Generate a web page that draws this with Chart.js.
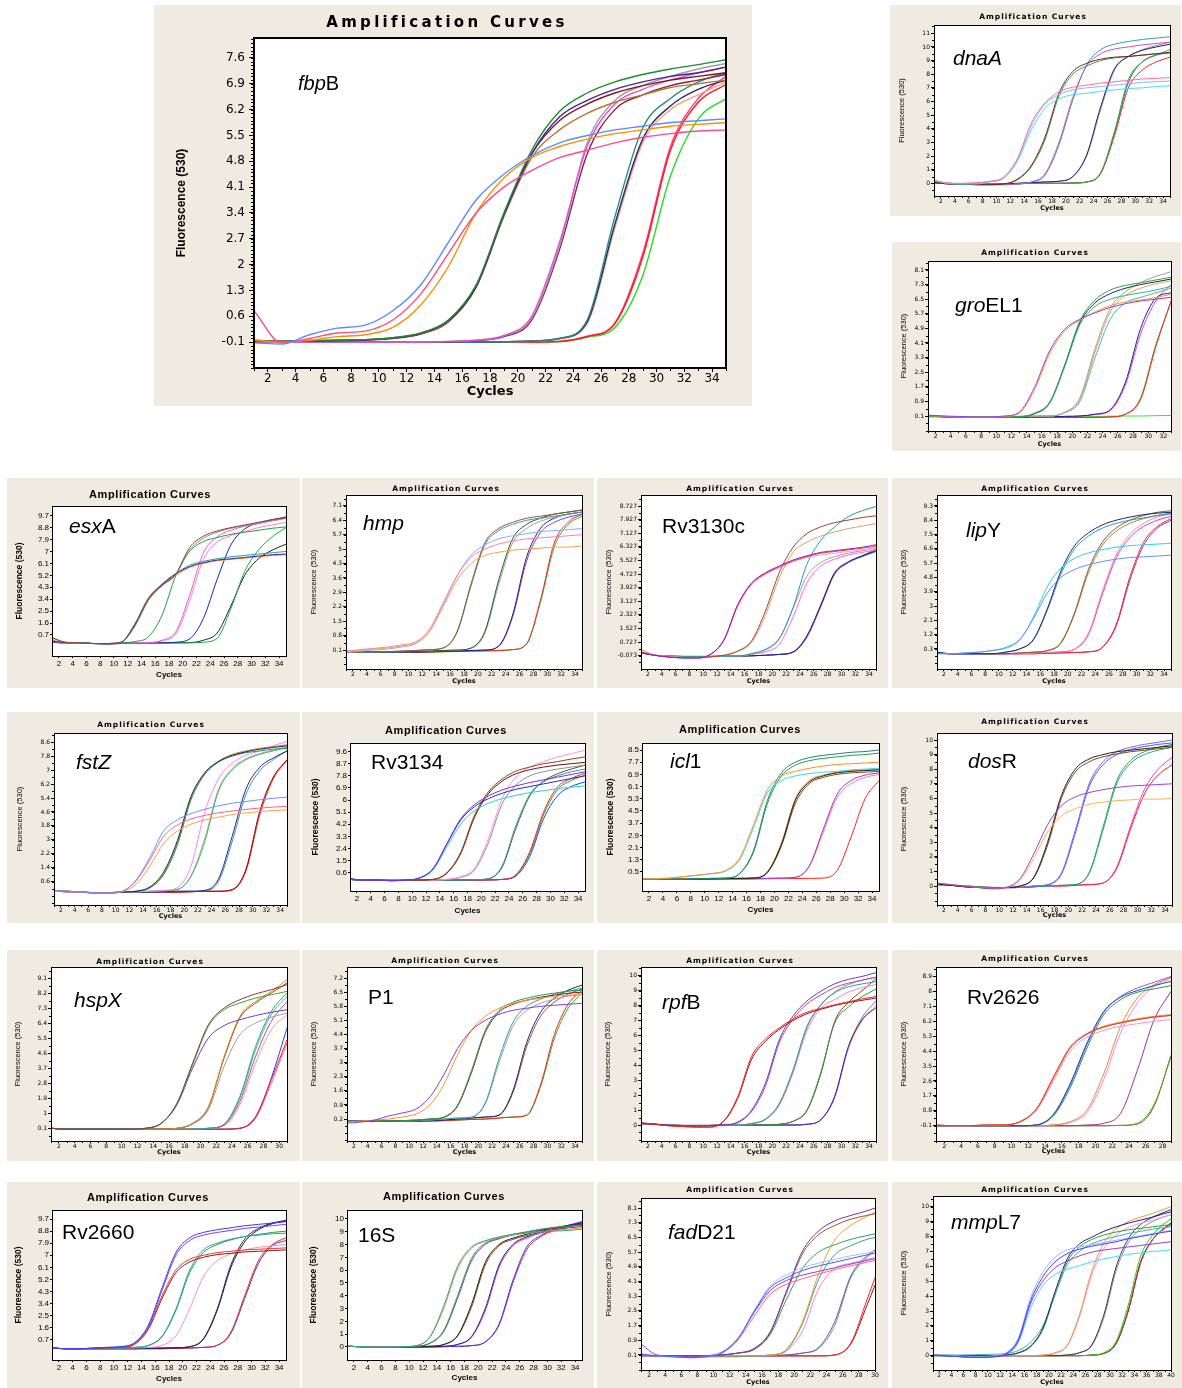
<!DOCTYPE html>
<html><head><meta charset="utf-8">
<script src="https://cdn.jsdelivr.net/npm/chart.js@4.4.1/dist/chart.umd.min.js"></script>
<style>
html,body{margin:0;padding:0;background:#fff;}
body{width:1182px;height:1388px;position:relative;overflow:hidden;}
.panel{position:absolute;background:#efebe1;}
.panel canvas{position:absolute;left:0;top:0;}
.ttl{position:absolute;white-space:nowrap;transform:translate(-50%,-50%);color:#000;}
.gene{position:absolute;white-space:nowrap;transform:translateY(-50%);font-family:'Liberation Sans',Arial,sans-serif;color:#000;}
</style></head><body>
<script>
// ---------- cycles (x positions of samples) ----------
const C35 = [1,3,5,7,9,11,13,15,17,19,21,23,25,27,29,31,33,35];
const C33 = [1,3,5,7,9,11,13,15,17,19,21,23,25,27,29,31,33];
const C31 = [1,3,5,7,9,11,13,15,17,19,21,23,25,27,29,31];
const C30 = [1,3,5,7,9,11,13,15,17,19,21,23,25,27,29,30];
const C29 = [1,3,5,7,9,11,13,15,17,19,21,23,25,27,29];
const C40 = [1,3,5,7,9,11,13,15,17,19,21,23,25,27,29,31,33,35,37,39,40];

// ---------- x tick labels ----------
const X34 = [2,4,6,8,10,12,14,16,18,20,22,24,26,28,30,32,34];
const X32 = [2,4,6,8,10,12,14,16,18,20,22,24,26,28,30,32];
const X30 = [2,4,6,8,10,12,14,16,18,20,22,24,26,28,30];
const X28 = [2,4,6,8,10,12,14,16,18,20,22,24,26,28];
const X40 = [2,4,6,8,10,12,14,16,18,20,22,24,26,28,30,32,34,36,38,40];

// ---------- y tick labels ----------
const fbpB_yTicks = [-0.1,0.6,1.3,2,2.7,3.4,4.1,4.8,5.5,6.2,6.9,7.6];
const dnaA_yTicks = [0,1,2,3,4,5,6,7,8,9,10,11];
const groEL1_yTicks = [0.1,0.9,1.7,2.5,3.3,4.1,4.9,5.7,6.5,7.3,8.1];
const esxA_yTicks = [0.7,1.6,2.5,3.4,4.3,5.2,6.1,7,7.9,8.8,9.7];
const hmp_yTicks = [0.1,0.8,1.5,2.2,2.9,3.6,4.3,5,5.7,6.4,7.1];
const Rv3130c_yTicks = [-0.073,0.727,1.527,2.327,3.127,3.927,4.727,5.527,6.327,7.127,7.927,8.727];
const lipY_yTicks = [0.3,1.2,2.1,3,3.9,4.8,5.7,6.6,7.5,8.4,9.3];
const fstZ_yTicks = [0.6,1.4,2.2,3,3.8,4.6,5.4,6.2,7,7.8,8.6];
const Rv3134_yTicks = [0.6,1.5,2.4,3.3,4.2,5.1,6,6.9,7.8,8.7,9.6];
const icl1_yTicks = [0.5,1.3,2.1,2.9,3.7,4.5,5.3,6.1,6.9,7.7,8.5];
const dosR_yTicks = [0,1,2,3,4,5,6,7,8,9,10];
const hspX_yTicks = [0.1,1,1.9,2.8,3.7,4.6,5.5,6.4,7.3,8.2,9.1];
const P1_yTicks = [0.2,0.9,1.6,2.3,3,3.7,4.4,5.1,5.8,6.5,7.2];
const rpfB_yTicks = [0,1,2,3,4,5,6,7,8,9,10];
const Rv2626_yTicks = [-0.1,0.8,1.7,2.6,3.5,4.4,5.3,6.2,7.1,8,8.9];
const Rv2660_yTicks = [0.7,1.6,2.5,3.4,4.3,5.2,6.1,7,7.9,8.8,9.7];
const r16S_yTicks = [0,1,2,3,4,5,6,7,8,9,10];
const fadD21_yTicks = [0.1,0.9,1.7,2.5,3.3,4.1,4.9,5.7,6.5,7.3,8.1];
const mmpL7_yTicks = [0,1,2,3,4,5,6,7,8,9,10];

// ---------- fluorescence values (one row per curve) ----------
const fbpB_values = [
 [-0.12,-0.15,0.1,0.28,0.36,0.75,1.45,2.6,3.75,4.45,4.95,5.3,5.5,5.65,5.75,5.85,5.9,5.95],
 [0.75,-0.12,0.0,0.15,0.2,0.5,1.2,2.3,3.4,4.1,4.55,4.9,5.1,5.3,5.45,5.55,5.62,5.65],
 [-0.05,-0.1,-0.05,0.05,0.1,0.3,0.9,1.95,3.4,4.35,4.9,5.2,5.4,5.55,5.65,5.75,5.8,5.85],
 [-0.05,-0.08,-0.06,-0.05,-0.03,0.02,0.15,0.5,1.45,3.4,5.1,6.15,6.65,6.95,7.15,7.3,7.42,7.55],
 [-0.06,-0.08,-0.07,-0.05,-0.04,0.01,0.14,0.48,1.4,3.35,5.0,6.0,6.45,6.75,6.95,7.1,7.2,7.35],
 [-0.05,-0.07,-0.06,-0.05,-0.03,0.02,0.13,0.46,1.38,3.3,4.9,5.65,6.1,6.4,6.6,6.8,6.9,7.0],
 [-0.06,-0.08,-0.07,-0.06,-0.04,0.0,0.12,0.45,1.4,3.35,5.0,5.9,6.35,6.65,6.85,7.0,7.1,7.2],
 [-0.1,-0.1,-0.1,-0.1,-0.1,-0.1,-0.09,-0.08,-0.05,0.08,0.6,2.6,5.2,6.35,6.75,7.0,7.2,7.35],
 [-0.1,-0.1,-0.1,-0.1,-0.1,-0.1,-0.09,-0.08,-0.05,0.07,0.55,2.5,5.3,6.45,6.85,7.1,7.3,7.45],
 [-0.1,-0.1,-0.1,-0.1,-0.1,-0.1,-0.1,-0.09,-0.06,0.05,0.5,2.4,5.0,6.2,6.6,6.85,7.0,7.15],
 [-0.1,-0.1,-0.1,-0.1,-0.1,-0.1,-0.1,-0.1,-0.1,-0.09,-0.07,0.0,0.5,3.3,5.7,6.5,6.95,7.2],
 [-0.1,-0.1,-0.1,-0.1,-0.1,-0.1,-0.1,-0.1,-0.1,-0.09,-0.07,0.0,0.45,3.1,5.4,6.3,6.75,7.0],
 [-0.1,-0.1,-0.1,-0.1,-0.1,-0.1,-0.1,-0.1,-0.1,-0.09,-0.08,-0.01,0.4,3.0,5.3,6.2,6.6,6.95],
 [-0.1,-0.1,-0.1,-0.1,-0.1,-0.1,-0.1,-0.1,-0.1,-0.1,-0.1,-0.08,0.05,0.4,2.2,5.1,6.4,6.88],
 [-0.1,-0.1,-0.1,-0.1,-0.1,-0.1,-0.1,-0.1,-0.1,-0.1,-0.1,-0.08,0.06,0.42,2.3,5.2,6.5,7.1],
 [-0.1,-0.1,-0.1,-0.1,-0.1,-0.1,-0.1,-0.1,-0.1,-0.1,-0.1,-0.09,0.03,0.3,1.7,4.4,5.95,6.5]
];
const fbpB_colors = ['#5a8cff','#ff4a8a','#ff8c00','#1e8c2a','#4b1fa8','#b07838','#7a1a1a','#e050e0','#a0a0a0','#8b2040','#2e8b7a','#26287a','#f4a582','#ff1a1a','#ff3c8c','#22dd22'];

const dnaA_values = [
 [0.2,0.02,0.0,0.05,0.15,0.45,1.8,4.4,5.9,6.7,7.05,7.2,7.35,7.45,7.55,7.65,7.7,7.75],
 [0.25,0.0,-0.02,0.03,0.12,0.4,1.7,4.2,5.8,6.5,6.85,7.0,7.1,7.2,7.3,7.4,7.45,7.5],
 [0.2,0.0,-0.05,-0.05,0.1,0.35,1.6,3.9,5.5,6.2,6.5,6.6,6.75,6.85,6.95,7.0,7.1,7.15],
 [0.1,-0.05,-0.05,-0.1,-0.1,-0.05,0.3,1.3,3.4,6.6,8.2,8.8,9.1,9.25,9.3,9.4,9.5,9.6],
 [0.15,-0.05,-0.08,-0.1,-0.1,-0.06,0.25,1.2,3.2,6.4,8.0,8.6,9.0,9.2,9.3,9.4,9.5,9.55],
 [0.1,0.0,-0.05,-0.1,-0.1,-0.1,-0.05,0.1,0.7,3.0,6.3,8.6,9.5,9.85,10.0,10.15,10.25,10.35],
 [0.1,0.0,-0.05,-0.1,-0.1,-0.1,-0.06,0.08,0.6,2.8,6.1,8.7,9.8,10.2,10.4,10.55,10.65,10.75],
 [0.05,0.0,-0.05,-0.08,-0.08,-0.05,0.0,0.05,0.1,0.15,0.5,2.1,5.6,8.4,9.3,9.75,10.0,10.2],
 [0.05,0.0,-0.05,-0.08,-0.08,-0.05,0.0,0.05,0.1,0.15,0.48,2.0,5.4,8.3,9.3,9.8,10.1,10.35],
 [0.0,-0.02,-0.05,-0.05,-0.05,-0.05,-0.03,0.0,0.0,0.0,0.02,0.1,0.75,3.8,7.6,8.9,9.4,9.8],
 [0.0,-0.02,-0.05,-0.05,-0.05,-0.05,-0.03,0.0,0.0,0.0,0.02,0.1,0.7,3.5,7.0,8.3,8.9,9.25],
 [0.0,-0.02,-0.05,-0.05,-0.05,-0.05,-0.03,0.0,0.0,0.0,0.02,0.1,0.75,3.7,7.4,8.9,9.4,9.6]
];
const dnaA_colors = ['#ff6fa0','#8fb4ff','#40e0f0','#7a2020','#3a9a4a','#d050c8','#3aa0a0','#20207a','#909090','#20c020','#ff2020','#2040ff'];

const groEL1_values = [
 [0.15,0.1,0.08,0.05,0.05,0.1,0.3,1.65,3.65,4.85,5.4,5.75,6.05,6.25,6.4,6.5,6.6],
 [0.12,0.08,0.06,0.04,0.04,0.08,0.25,1.5,3.5,4.75,5.35,5.8,6.15,6.35,6.45,6.6,6.75],
 [0.1,0.08,0.05,0.03,0.03,0.04,0.05,0.25,0.85,2.9,5.3,6.45,7.0,7.25,7.4,7.55,7.7],
 [0.1,0.08,0.05,0.03,0.03,0.04,0.05,0.24,0.8,2.8,5.1,6.1,6.5,6.7,6.85,7.0,7.2],
 [0.1,0.07,0.05,0.02,0.02,0.03,0.05,0.22,0.8,2.85,5.2,6.3,6.8,7.1,7.3,7.45,7.6],
 [0.1,0.08,0.05,0.05,0.05,0.06,0.08,0.1,0.1,0.3,1.1,3.8,6.0,6.9,7.4,7.75,8.0],
 [0.1,0.08,0.05,0.05,0.05,0.06,0.08,0.1,0.1,0.3,1.0,3.6,5.8,6.7,7.1,7.35,7.5],
 [0.1,0.08,0.05,0.05,0.05,0.06,0.08,0.1,0.1,0.28,0.9,3.3,5.4,6.3,6.6,6.85,7.1],
 [0.1,0.07,0.05,0.05,0.05,0.05,0.05,0.05,0.06,0.08,0.1,0.2,0.45,1.95,4.9,6.55,6.85],
 [0.1,0.07,0.05,0.05,0.05,0.05,0.05,0.05,0.06,0.08,0.1,0.18,0.4,1.8,4.6,6.4,7.3],
 [0.1,0.05,0.03,0.02,0.02,0.02,0.02,0.02,0.02,0.02,0.02,0.03,0.05,0.2,1.0,3.9,6.4],
 [0.1,0.05,0.03,0.02,0.02,0.02,0.02,0.02,0.02,0.02,0.02,0.03,0.05,0.2,1.1,4.0,6.35],
 [0.05,0.05,0.05,0.05,0.05,0.05,0.06,0.06,0.07,0.07,0.08,0.08,0.09,0.1,0.1,0.12,0.13]
];
const groEL1_colors = ['#8a3cff','#ff9a20','#30a040','#30b0a0','#203040','#a0a0a0','#f0a040','#40c0b0','#202080','#e040e0','#ff2020','#20c020','#40e040'];

const esxA_values = [
 [0.5,0.15,0.1,0.05,0.05,0.15,1.4,3.4,4.45,5.3,7.3,8.15,8.55,8.8,9.0,9.2,9.4,9.55],
 [0.45,0.14,0.1,0.05,0.05,0.14,1.3,3.3,4.4,5.25,7.1,8.0,8.45,8.75,8.95,9.15,9.35,9.5],
 [0.2,0.12,0.1,0.05,0.02,0.12,1.4,3.35,4.5,5.3,5.85,6.15,6.35,6.45,6.55,6.65,6.75,6.8],
 [0.2,0.12,0.1,0.05,0.05,0.14,1.5,3.45,4.55,5.35,5.95,6.25,6.45,6.6,6.7,6.8,6.9,7.0],
 [0.3,0.12,0.1,0.05,0.05,0.15,1.5,3.5,4.5,5.2,5.8,6.1,6.3,6.4,6.5,6.6,6.7,6.75],
 [0.3,0.1,0.1,0.05,0.05,0.1,0.2,0.55,2.2,5.2,7.0,7.75,8.05,8.3,8.45,8.6,8.75,8.85],
 [0.2,0.1,0.1,0.05,0.05,0.1,0.1,0.12,0.3,0.95,3.7,6.9,8.1,8.6,8.9,9.1,9.3,9.5],
 [0.2,0.1,0.1,0.05,0.05,0.1,0.1,0.12,0.25,0.8,3.3,6.4,7.7,8.2,8.5,8.8,9.0,9.2],
 [0.15,0.1,0.1,0.05,0.02,0.05,0.08,0.1,0.1,0.15,0.4,1.95,4.9,7.5,8.7,9.15,9.4,9.6],
 [0.15,0.1,0.1,0.05,0.05,0.05,0.08,0.1,0.1,0.1,0.1,0.15,0.45,2.7,5.5,7.1,8.1,8.8],
 [0.15,0.1,0.1,0.05,0.05,0.05,0.08,0.1,0.1,0.1,0.12,0.3,0.85,2.9,5.2,6.45,7.1,7.55]
];
const esxA_colors = ['#8b4a2a','#909090','#4020a0','#20a0a0','#ff8c20','#20a040','#e060e0','#ff80c0','#2020a0','#10b040','#202020'];

const hmp_values = [
 [0.0,0.1,0.15,0.2,0.3,0.45,1.0,2.2,3.5,4.3,4.7,4.85,4.95,5.0,5.05,5.1,5.1,5.15],
 [0.05,0.12,0.18,0.25,0.35,0.5,1.1,2.4,3.7,4.6,5.0,5.25,5.4,5.5,5.55,5.6,5.65,5.7],
 [-0.05,0.05,0.1,0.15,0.25,0.4,1.0,2.3,3.7,4.7,5.2,5.5,5.65,5.75,5.85,5.9,5.95,6.0],
 [0.0,0.0,0.0,0.02,0.05,0.08,0.12,0.2,1.0,3.3,5.3,6.0,6.3,6.5,6.6,6.7,6.8,6.9],
 [0.0,0.0,0.0,0.02,0.05,0.08,0.12,0.2,0.95,3.2,5.2,5.9,6.2,6.4,6.5,6.6,6.7,6.8],
 [0.0,0.0,0.0,0.0,0.02,0.03,0.05,0.08,0.1,0.2,1.0,3.5,5.5,6.2,6.5,6.7,6.8,6.9],
 [0.0,0.0,0.0,0.0,0.02,0.03,0.05,0.08,0.1,0.18,0.9,3.3,5.3,6.0,6.35,6.55,6.7,6.8],
 [0.0,0.0,0.0,0.0,0.0,0.0,0.02,0.05,0.05,0.08,0.1,0.3,1.8,4.6,6.0,6.5,6.7,6.8],
 [0.0,0.0,0.0,0.0,0.0,0.0,0.02,0.05,0.05,0.08,0.1,0.28,1.7,4.4,5.8,6.3,6.55,6.7],
 [0.0,0.0,0.0,0.0,0.0,0.0,0.0,0.02,0.03,0.05,0.06,0.08,0.12,0.4,2.5,5.3,6.3,6.7],
 [0.0,0.0,0.0,0.0,0.0,0.0,0.0,0.02,0.03,0.05,0.06,0.08,0.12,0.38,2.4,5.1,6.2,6.6]
];
const hmp_colors = ['#ffa040','#ff80b0','#80b0ff','#a0522d','#30a0a0','#206020','#a0a0a0','#202080','#8040c0','#ff2020','#20c020'];

const Rv3130c_values = [
 [0.1,-0.05,-0.15,-0.2,-0.2,0.0,0.87,2.93,4.2,4.8,5.2,5.55,5.8,6.0,6.1,6.2,6.3,6.45],
 [0.15,-0.05,-0.15,-0.2,-0.22,-0.02,0.85,2.9,4.15,4.75,5.15,5.5,5.75,5.95,6.05,6.15,6.25,6.35],
 [0.2,-0.03,-0.12,-0.18,-0.2,-0.02,0.8,2.8,4.1,4.7,5.1,5.45,5.7,5.85,5.95,6.05,6.15,6.25],
 [0.1,-0.05,-0.15,-0.2,-0.2,-0.15,-0.05,0.2,0.8,2.55,4.8,6.3,7.1,7.5,7.75,7.9,8.05,8.15],
 [0.3,-0.05,-0.15,-0.2,-0.2,-0.15,-0.06,0.18,0.7,2.3,4.5,6.0,6.6,6.95,7.2,7.4,7.55,7.7],
 [0.1,-0.05,-0.1,-0.12,-0.12,-0.12,-0.1,-0.1,0.05,0.3,0.95,2.75,5.3,6.7,7.5,8.1,8.45,8.7],
 [0.1,-0.05,-0.1,-0.12,-0.12,-0.12,-0.1,-0.1,0.03,0.25,0.9,2.7,4.6,5.4,5.75,5.95,6.1,6.25],
 [0.1,-0.05,-0.1,-0.12,-0.12,-0.12,-0.1,-0.1,0.0,0.15,0.6,2.2,4.2,5.2,5.6,5.85,6.0,6.15],
 [0.1,-0.05,-0.1,-0.12,-0.12,-0.12,-0.1,-0.1,-0.08,-0.05,0.0,0.15,1.1,2.9,4.8,5.45,5.8,6.1],
 [0.1,-0.05,-0.1,-0.12,-0.12,-0.12,-0.1,-0.1,-0.08,-0.05,0.0,0.12,1.0,2.8,4.7,5.4,5.8,6.2],
 [0.1,-0.05,-0.1,-0.12,-0.12,-0.12,-0.1,-0.1,-0.08,-0.05,0.0,0.13,1.05,2.85,4.75,5.4,5.75,6.05]
];
const Rv3130c_colors = ['#8020e0','#ff4020','#ffa0c0','#a04030','#e0a060','#20a0a0','#a0a0a0','#ff60ff','#202080','#a040c0','#208040'];

const lipY_values = [
 [0.0,0.0,0.05,0.1,0.2,0.4,0.9,2.2,3.8,4.8,5.3,5.6,5.8,5.95,6.05,6.1,6.15,6.2],
 [0.0,0.0,0.05,0.1,0.2,0.35,0.85,2.3,4.2,5.4,6.0,6.35,6.55,6.7,6.8,6.85,6.9,6.95],
 [0.1,0.0,0.0,0.0,0.0,0.1,0.3,0.9,2.8,5.2,6.8,7.6,8.1,8.4,8.6,8.75,8.85,8.9],
 [0.1,0.0,0.0,0.0,0.0,0.1,0.3,0.85,2.7,5.0,6.6,7.4,7.9,8.2,8.4,8.55,8.7,8.8],
 [0.05,0.0,0.0,0.0,0.0,0.0,0.05,0.1,0.2,0.7,2.6,5.3,7.0,7.9,8.4,8.7,8.9,9.0],
 [0.05,0.0,0.0,0.0,0.0,0.0,0.05,0.1,0.18,0.65,2.5,5.1,6.8,7.7,8.2,8.5,8.7,8.85],
 [0.05,0.0,0.0,0.0,0.0,0.0,0.0,0.05,0.08,0.12,0.3,1.3,3.9,6.2,7.5,8.2,8.6,8.8],
 [0.05,0.0,0.0,0.0,0.0,0.0,0.0,0.05,0.08,0.12,0.28,1.2,3.7,6.0,7.3,8.0,8.4,8.65],
 [0.05,0.0,0.0,0.0,0.0,0.0,0.0,0.0,0.03,0.05,0.08,0.12,0.4,1.8,4.8,7.0,8.0,8.5],
 [0.05,0.0,0.0,0.0,0.0,0.0,0.0,0.0,0.03,0.05,0.08,0.12,0.38,1.7,4.6,6.8,7.9,8.4]
];
const lipY_colors = ['#6090ff','#30d0e0','#202080','#30a0a0','#a0522d','#909040','#ff80b0','#d040d0','#ff2020','#8040c0'];

const fstZ_values = [
 [0.1,0.05,0.0,-0.05,-0.05,0.05,0.7,2.0,3.5,4.15,4.5,4.75,4.95,5.1,5.2,5.3,5.38,5.45],
 [0.1,0.05,0.0,-0.05,-0.05,0.05,0.65,1.85,3.2,3.85,4.2,4.4,4.55,4.65,4.75,4.82,4.88,4.92],
 [0.1,0.05,0.0,-0.05,-0.05,0.03,0.45,1.5,2.8,3.5,3.9,4.15,4.3,4.45,4.55,4.62,4.68,4.72],
 [0.1,0.05,0.0,-0.05,-0.05,0.0,0.05,0.3,1.15,2.95,5.5,6.85,7.5,7.85,8.05,8.2,8.3,8.4],
 [0.1,0.05,0.0,-0.05,-0.05,0.0,0.05,0.25,1.0,2.7,5.3,6.75,7.45,7.8,8.0,8.1,8.2,8.25],
 [0.1,0.05,0.0,-0.05,-0.05,0.0,0.05,0.25,1.05,2.8,5.4,6.8,7.5,7.9,8.1,8.25,8.35,8.45],
 [0.05,0.02,0.0,-0.03,-0.03,0.0,0.02,0.05,0.1,0.25,1.5,4.6,6.5,7.4,7.85,8.1,8.4,8.65],
 [0.05,0.02,0.0,-0.03,-0.03,0.0,0.02,0.05,0.08,0.15,0.9,2.9,5.8,7.0,7.6,7.9,8.1,8.3],
 [0.05,0.02,0.0,-0.03,-0.03,0.0,0.02,0.05,0.08,0.15,0.95,3.1,5.9,7.1,7.65,7.95,8.15,8.35],
 [0.05,0.02,0.0,-0.03,-0.03,0.0,0.0,0.0,0.02,0.05,0.05,0.1,0.75,3.2,5.9,7.15,7.7,8.1],
 [0.05,0.02,0.0,-0.03,-0.03,0.0,0.0,0.0,0.02,0.05,0.05,0.08,0.6,2.9,5.6,6.95,7.6,8.1],
 [0.05,0.02,0.0,-0.03,-0.03,0.0,0.0,0.0,0.0,0.0,0.02,0.05,0.05,0.15,1.3,4.6,6.6,7.6],
 [0.05,0.02,0.0,-0.03,-0.03,0.0,0.0,0.0,0.0,0.0,0.02,0.05,0.05,0.12,1.2,4.4,6.5,7.55]
];
const fstZ_colors = ['#7090ff','#ff6090','#ffa040','#202080','#20a040','#d08020','#ff80ff','#40b060','#b0b0b0','#302090','#30a0a0','#8b0000','#ff2020'];

const Rv3134_values = [
 [0.15,0.05,0.05,0.0,0.05,0.2,0.9,2.75,4.6,5.65,6.3,6.75,7.05,7.3,7.5,7.7,7.9,8.1],
 [0.15,0.05,0.05,0.0,0.05,0.2,0.88,2.7,4.5,5.5,6.1,6.5,6.8,7.0,7.2,7.4,7.6,7.8],
 [0.15,0.05,0.05,0.0,0.05,0.18,0.8,2.5,4.2,5.2,5.75,6.1,6.35,6.55,6.7,6.85,6.95,7.05],
 [0.1,0.05,0.05,0.02,0.03,0.05,0.1,0.6,2.1,4.85,6.6,7.55,8.15,8.45,8.7,8.85,9.05,9.2],
 [0.1,0.05,0.05,0.02,0.03,0.05,0.1,0.55,2.0,4.7,6.45,7.4,7.95,8.25,8.45,8.6,8.7,8.8],
 [0.1,0.05,0.05,0.05,0.05,0.05,0.05,0.1,0.3,0.9,3.1,6.1,7.7,8.45,8.85,9.2,9.45,9.7],
 [0.1,0.05,0.05,0.05,0.05,0.05,0.05,0.1,0.25,0.8,2.8,5.7,7.1,7.8,8.1,8.3,8.45,8.6],
 [0.1,0.05,0.05,0.05,0.05,0.05,0.05,0.05,0.05,0.08,0.15,1.1,4.1,6.4,7.35,7.8,8.1,8.3],
 [0.1,0.05,0.05,0.05,0.05,0.05,0.05,0.05,0.05,0.08,0.15,1.0,3.9,6.3,7.4,7.95,8.3,8.6],
 [0.1,0.05,0.05,0.05,0.05,0.05,0.05,0.05,0.05,0.05,0.06,0.1,0.45,2.15,5.1,6.95,7.6,8.0],
 [0.1,0.05,0.05,0.05,0.05,0.05,0.05,0.05,0.05,0.05,0.06,0.1,0.35,1.8,4.6,6.3,7.0,7.35],
 [0.1,0.05,0.05,0.05,0.05,0.05,0.05,0.05,0.05,0.05,0.06,0.1,0.4,2.0,4.9,6.75,7.45,7.85]
];
const Rv3134_colors = ['#8030e0','#2030c0','#30c8e8','#8b4513','#6a1010','#ff90e0','#909090','#30a0a0','#505050','#ff2020','#2040ff','#20b020'];

const icl1_values = [
 [0.05,0.05,0.1,0.2,0.3,0.4,0.6,1.4,3.6,5.9,6.8,7.1,7.3,7.45,7.55,7.6,7.65,7.7],
 [0.05,0.05,0.1,0.18,0.28,0.38,0.55,1.3,3.4,5.7,6.5,6.8,6.95,7.05,7.1,7.2,7.25,7.3],
 [0.05,0.02,0.02,0.02,0.05,0.08,0.1,0.4,1.9,5.2,7.0,7.7,8.0,8.15,8.25,8.35,8.4,8.5],
 [0.05,0.02,0.02,0.02,0.05,0.08,0.1,0.38,1.8,5.0,6.8,7.5,7.8,7.95,8.05,8.15,8.2,8.3],
 [0.05,0.02,0.02,0.02,0.03,0.05,0.06,0.08,0.1,0.5,2.3,5.2,6.4,6.8,7.0,7.1,7.15,7.2],
 [0.05,0.02,0.02,0.02,0.03,0.05,0.06,0.08,0.1,0.45,2.2,5.0,6.3,6.7,6.9,7.0,7.05,7.1],
 [0.05,0.02,0.02,0.02,0.03,0.05,0.06,0.08,0.1,0.5,2.4,5.3,6.5,6.85,7.05,7.15,7.2,7.25],
 [0.05,0.02,0.02,0.02,0.03,0.03,0.05,0.05,0.06,0.08,0.1,0.15,0.9,3.3,5.6,6.5,6.85,7.0],
 [0.05,0.02,0.02,0.02,0.03,0.03,0.05,0.05,0.06,0.08,0.1,0.14,0.85,3.1,5.4,6.3,6.7,6.9],
 [0.05,0.02,0.02,0.02,0.03,0.03,0.03,0.03,0.04,0.05,0.06,0.07,0.08,0.1,0.6,2.8,5.3,6.5]
];
const icl1_colors = ['#ff9020','#30e0f0','#208080','#20a040','#202020','#8b4513','#e09030','#9040c0','#ff70c0','#ff2020'];

const dosR_values = [
 [0.2,0.1,0.0,-0.1,-0.2,-0.1,0.5,2.2,4.2,5.5,6.1,6.4,6.6,6.75,6.85,6.9,6.95,7.0],
 [0.2,0.1,0.0,-0.1,-0.15,-0.1,0.4,1.9,3.7,4.8,5.3,5.6,5.75,5.85,5.9,5.95,5.95,6.0],
 [0.15,0.05,-0.05,-0.1,-0.15,-0.1,0.0,0.6,3.0,6.2,8.0,8.7,9.0,9.2,9.3,9.4,9.5,9.6],
 [0.15,0.05,-0.05,-0.1,-0.15,-0.1,0.0,0.55,2.8,6.0,7.8,8.5,8.85,9.05,9.2,9.3,9.4,9.5],
 [0.1,0.05,-0.05,-0.1,-0.12,-0.12,-0.1,0.0,0.1,0.9,3.8,7.0,8.5,9.2,9.5,9.7,9.85,10.0],
 [0.1,0.05,-0.05,-0.1,-0.12,-0.12,-0.1,0.0,0.08,0.8,3.6,6.8,8.3,9.0,9.35,9.55,9.7,9.8],
 [0.1,0.05,0.0,-0.05,-0.1,-0.1,-0.1,-0.05,0.0,0.05,0.1,0.9,4.0,7.2,8.6,9.2,9.5,9.7],
 [0.1,0.05,0.0,-0.05,-0.1,-0.1,-0.1,-0.05,0.0,0.05,0.1,0.85,3.8,7.0,8.4,9.0,9.3,9.5],
 [0.1,0.05,0.0,-0.05,-0.1,-0.1,-0.1,-0.05,0.0,0.0,0.05,0.1,0.2,1.2,3.9,6.3,7.6,8.3],
 [0.1,0.05,0.0,-0.05,-0.1,-0.1,-0.1,-0.05,0.0,0.0,0.05,0.1,0.2,1.3,4.1,6.6,8.0,8.8]
];
const dosR_colors = ['#a040e0','#ffb050','#202020','#8b4513','#8060ff','#4060ff','#20b040','#30a0a0','#ff2020','#e040e0'];

const hspX_values = [
 [0.1,0.05,0.05,0.05,0.05,0.05,0.1,0.4,1.6,4.0,6.3,7.3,7.8,8.15,8.4,8.7],
 [0.1,0.05,0.05,0.05,0.05,0.05,0.1,0.38,1.55,3.9,6.2,7.2,7.6,7.9,8.1,8.3],
 [0.1,0.05,0.05,0.05,0.05,0.05,0.1,0.4,1.5,3.7,5.5,6.25,6.6,6.85,7.05,7.2],
 [0.1,0.05,0.05,0.05,0.05,0.05,0.05,0.05,0.1,0.4,1.4,4.4,6.8,7.7,8.3,9.0],
 [0.1,0.05,0.05,0.05,0.05,0.05,0.05,0.05,0.1,0.38,1.35,4.3,6.7,7.6,8.2,8.8],
 [0.1,0.05,0.05,0.05,0.05,0.05,0.05,0.05,0.1,0.35,1.2,3.8,5.7,6.4,6.75,7.0],
 [0.1,0.05,0.05,0.05,0.05,0.05,0.05,0.05,0.05,0.05,0.1,0.35,2.0,5.0,7.1,8.2],
 [0.1,0.05,0.05,0.05,0.05,0.05,0.05,0.05,0.05,0.05,0.1,0.33,1.9,4.8,6.9,8.0],
 [0.1,0.05,0.05,0.05,0.05,0.05,0.05,0.05,0.05,0.05,0.1,0.3,1.7,4.4,6.5,7.7],
 [0.1,0.05,0.05,0.05,0.05,0.05,0.05,0.05,0.05,0.05,0.1,0.25,1.5,4.0,6.0,6.9],
 [0.1,0.05,0.05,0.05,0.05,0.05,0.05,0.05,0.05,0.05,0.05,0.05,0.1,0.8,3.0,5.4],
 [0.1,0.05,0.05,0.05,0.05,0.05,0.05,0.05,0.05,0.05,0.05,0.05,0.1,0.75,3.1,6.1],
 [0.1,0.05,0.05,0.05,0.05,0.05,0.05,0.05,0.05,0.05,0.05,0.05,0.1,0.7,2.8,5.2]
];
const hspX_colors = ['#8b3a3a','#40a040','#6040d0','#e09020','#8b4513','#a0a0a0','#30a090','#40c060','#c040c0','#f0a090','#ff2020','#2040ff','#ff60a0'];

const P1_values = [
 [0.0,0.05,0.15,0.35,0.5,0.7,1.3,2.4,3.7,4.6,5.1,5.4,5.6,5.7,5.8,5.85,5.9,5.95],
 [0.05,0.1,0.15,0.2,0.3,0.45,0.9,1.9,3.4,4.6,5.3,5.7,5.95,6.1,6.2,6.3,6.35,6.4],
 [0.1,0.1,0.1,0.1,0.12,0.15,0.2,0.3,0.9,2.6,4.6,5.6,6.0,6.2,6.35,6.45,6.55,6.6],
 [0.1,0.1,0.1,0.1,0.12,0.15,0.2,0.28,0.85,2.5,4.5,5.5,5.9,6.1,6.25,6.35,6.45,6.5],
 [0.1,0.1,0.1,0.1,0.1,0.12,0.15,0.2,0.25,0.3,1.0,3.2,5.0,5.8,6.15,6.4,6.55,6.7],
 [0.1,0.1,0.1,0.1,0.1,0.12,0.15,0.2,0.25,0.28,0.95,3.0,4.8,5.6,5.95,6.15,6.3,6.4],
 [0.1,0.1,0.1,0.1,0.1,0.1,0.12,0.15,0.2,0.25,0.3,0.4,1.6,4.0,5.5,6.2,6.6,6.85],
 [0.1,0.1,0.1,0.1,0.1,0.1,0.12,0.15,0.2,0.25,0.3,0.38,1.5,3.8,5.3,6.0,6.4,6.65],
 [0.1,0.1,0.1,0.1,0.1,0.1,0.1,0.12,0.15,0.18,0.2,0.25,0.3,0.4,1.9,4.4,5.9,6.6],
 [0.1,0.1,0.1,0.1,0.1,0.1,0.1,0.12,0.15,0.18,0.2,0.25,0.3,0.38,1.8,4.2,5.7,6.45]
];
const P1_colors = ['#8040e0','#ff9030','#20a040','#8b1a1a','#30a0a0','#a0a0a0','#202080','#a0522d','#ff2020','#20c020'];

const rpfB_values = [
 [0.15,0.05,-0.05,-0.1,-0.15,-0.15,0.3,1.9,4.6,5.75,6.5,7.1,7.55,7.8,8.05,8.25,8.45,8.6],
 [0.15,0.05,-0.05,-0.1,-0.12,-0.12,0.25,1.8,4.4,5.6,6.4,7.0,7.45,7.75,8.0,8.2,8.35,8.5],
 [0.1,0.05,0.0,-0.05,-0.05,-0.03,0.0,0.2,1.0,2.8,5.7,7.3,8.3,8.95,9.45,9.75,9.95,10.2],
 [0.1,0.05,0.0,-0.05,-0.05,-0.03,0.0,0.15,0.9,2.6,5.5,7.1,8.1,8.7,9.2,9.5,9.7,9.9],
 [0.1,0.05,0.0,-0.03,-0.03,-0.03,0.0,0.0,0.1,0.4,1.45,3.7,6.6,8.05,8.85,9.25,9.45,9.6],
 [0.1,0.05,0.0,-0.03,-0.03,-0.03,0.0,0.0,0.1,0.38,1.4,3.6,6.5,8.0,8.9,9.4,9.7,9.9],
 [0.1,0.05,0.0,-0.03,-0.03,-0.03,0.0,0.0,0.08,0.35,1.3,3.5,6.3,7.8,8.4,8.9,9.2,9.4],
 [0.1,0.05,0.0,-0.03,-0.03,-0.03,0.0,0.0,0.0,0.0,0.05,0.25,1.0,3.5,6.8,7.9,8.6,9.1],
 [0.1,0.05,0.0,-0.03,-0.03,-0.03,0.0,0.0,0.0,0.0,0.05,0.25,0.95,3.4,6.9,8.2,9.0,9.8],
 [0.1,0.05,0.0,-0.03,-0.03,-0.03,0.0,0.0,0.0,0.0,0.0,0.0,0.05,0.35,1.9,5.25,7.05,7.85],
 [0.1,0.05,0.0,-0.03,-0.03,-0.03,0.0,0.0,0.0,0.0,0.0,0.0,0.05,0.35,1.85,5.2,7.2,8.3],
 [0.1,0.05,0.0,-0.03,-0.03,-0.03,0.0,0.0,0.0,0.0,0.0,0.0,0.05,0.33,1.8,5.1,7.0,8.0]
];
const rpfB_colors = ['#ff2020','#8b1a1a','#6040c0','#c040a0','#30a0a0','#909090','#ff80e0','#20a040','#8b4513','#5020a0','#4080ff','#ff9030'];

const Rv2626_values = [
 [-0.05,-0.1,-0.1,-0.05,-0.05,0.15,0.95,2.85,4.65,5.45,5.85,6.1,6.3,6.45,6.55],
 [-0.05,-0.1,-0.1,-0.05,-0.05,0.14,0.93,2.8,4.6,5.45,5.9,6.15,6.35,6.5,6.6],
 [-0.05,-0.1,-0.1,-0.05,-0.05,0.13,0.9,2.75,4.55,5.4,5.85,6.1,6.3,6.45,6.55],
 [-0.05,-0.1,-0.1,-0.05,-0.05,0.12,0.85,2.6,4.4,5.25,5.65,5.9,6.05,6.2,6.3],
 [-0.1,-0.1,-0.1,-0.1,-0.1,-0.1,-0.05,0.6,2.45,4.9,6.8,7.65,8.05,8.35,8.6],
 [-0.1,-0.1,-0.1,-0.1,-0.1,-0.1,-0.05,0.5,2.2,4.6,6.6,7.5,7.95,8.15,8.35],
 [-0.1,-0.1,-0.1,-0.1,-0.1,-0.1,-0.05,0.55,2.35,4.8,6.75,7.7,8.2,8.55,8.9],
 [-0.1,-0.1,-0.1,-0.1,-0.1,-0.1,-0.1,-0.05,0.15,0.85,3.05,5.9,7.6,8.4,8.85],
 [-0.1,-0.1,-0.1,-0.1,-0.1,-0.1,-0.1,-0.05,0.1,0.7,2.7,5.5,7.3,8.3,8.8],
 [-0.1,-0.1,-0.1,-0.1,-0.1,-0.1,-0.1,-0.1,-0.1,-0.05,0.05,0.65,3.25,6.3,8.0],
 [-0.1,-0.1,-0.1,-0.1,-0.1,-0.1,-0.1,-0.1,-0.1,-0.1,-0.1,-0.08,0.05,1.2,4.05],
 [-0.1,-0.1,-0.1,-0.1,-0.1,-0.1,-0.1,-0.1,-0.1,-0.1,-0.1,-0.08,0.0,1.1,4.15]
];
const Rv2626_colors = ['#ff3020','#ff9020','#30c0f0','#ff90c0','#2040c0','#20a040','#8060e0','#e09030','#ff80e0','#a030a0','#20c020','#ff2020'];

const Rv2660_values = [
 [0.1,0.05,0.05,0.1,0.15,0.2,0.5,1.8,4.6,7.2,8.3,8.7,8.9,9.05,9.2,9.3,9.4,9.5],
 [0.1,0.05,0.05,0.1,0.15,0.2,0.48,1.7,4.4,7.0,8.1,8.5,8.7,8.85,9.0,9.1,9.2,9.3],
 [0.1,0.05,0.05,0.08,0.12,0.15,0.4,1.6,4.0,5.9,6.7,7.0,7.2,7.3,7.4,7.45,7.5,7.55],
 [0.1,0.05,0.05,0.08,0.12,0.15,0.38,1.5,3.8,5.7,6.5,6.85,7.05,7.15,7.25,7.3,7.35,7.4],
 [0.1,0.05,0.05,0.05,0.05,0.1,0.15,0.3,1.0,3.0,5.9,7.4,7.9,8.2,8.4,8.5,8.6,8.65],
 [0.1,0.05,0.05,0.05,0.05,0.1,0.15,0.28,0.95,2.9,5.7,7.2,7.8,8.15,8.4,8.55,8.7,8.8],
 [0.1,0.05,0.05,0.05,0.05,0.08,0.1,0.15,0.3,1.0,3.0,5.4,6.6,7.1,7.4,7.6,7.7,7.8],
 [0.1,0.05,0.05,0.05,0.05,0.05,0.05,0.08,0.1,0.12,0.2,0.8,3.0,6.3,8.2,9.0,9.4,9.6],
 [0.1,0.05,0.05,0.05,0.05,0.05,0.05,0.08,0.1,0.12,0.2,0.75,2.9,6.1,8.0,8.9,9.35,9.55],
 [0.1,0.05,0.05,0.05,0.05,0.05,0.05,0.05,0.05,0.08,0.1,0.15,0.3,1.3,4.0,6.6,7.8,8.3],
 [0.1,0.05,0.05,0.05,0.05,0.05,0.05,0.05,0.05,0.08,0.1,0.15,0.3,1.2,3.8,6.4,7.7,8.1]
];
const Rv2660_colors = ['#3040ff','#8040e0','#ff3030','#8b1a1a','#30a0a0','#20a040','#ff90a0','#202080','#202020','#ff2020','#2040ff'];

const r16S_values = [
 [0.05,0.02,0.0,0.0,0.02,0.1,0.8,3.2,6.3,7.8,8.3,8.6,8.8,8.9,9.0,9.05,9.1,9.2],
 [0.05,0.02,0.0,0.0,0.02,0.1,0.75,3.0,6.1,7.7,8.25,8.55,8.75,8.9,9.0,9.1,9.2,9.3],
 [0.05,0.02,0.0,0.0,0.02,0.05,0.3,1.3,4.0,6.9,8.1,8.5,8.8,9.0,9.2,9.35,9.45,9.55],
 [0.05,0.02,0.0,0.0,0.02,0.05,0.28,1.2,3.8,6.7,8.0,8.45,8.75,8.95,9.15,9.3,9.4,9.5],
 [0.05,0.02,0.0,0.0,0.0,0.02,0.05,0.2,0.9,3.3,6.6,8.0,8.5,8.8,9.1,9.3,9.45,9.6],
 [0.05,0.02,0.0,0.0,0.0,0.02,0.05,0.18,0.85,3.1,6.4,7.9,8.4,8.7,8.95,9.15,9.3,9.4],
 [0.05,0.02,0.0,0.0,0.0,0.0,0.02,0.05,0.2,0.8,3.0,6.4,8.0,8.6,9.0,9.3,9.5,9.7],
 [0.05,0.02,0.0,0.0,0.0,0.0,0.02,0.05,0.18,0.75,2.8,6.2,7.9,8.5,8.9,9.2,9.4,9.6],
 [0.05,0.02,0.0,0.0,0.0,0.0,0.0,0.02,0.05,0.1,0.4,1.8,5.2,7.8,8.7,9.2,9.5,9.8],
 [0.05,0.02,0.0,0.0,0.0,0.0,0.0,0.02,0.05,0.1,0.38,1.7,5.0,7.6,8.6,9.1,9.4,9.7]
];
const r16S_colors = ['#30a0a0','#ff9030','#20a040','#8040c0','#202020','#8b4513','#202080','#d040d0','#2040ff','#ff2020'];

const fadD21_values = [
 [0.15,0.05,0.0,-0.05,0.0,0.2,0.97,2.45,3.75,4.3,4.7,4.95,5.15,5.35,5.55,5.65],
 [0.15,0.05,0.0,-0.05,0.0,0.22,1.0,2.5,3.85,4.45,4.85,5.1,5.3,5.5,5.65,5.75],
 [0.7,0.1,0.05,0.0,0.05,0.25,1.0,2.4,3.6,4.15,4.45,4.65,4.85,5.05,5.25,5.35],
 [0.1,0.05,0.0,-0.05,0.0,0.2,0.9,2.2,3.4,3.95,4.25,4.5,4.75,4.95,5.15,5.25],
 [0.1,0.05,0.05,0.05,0.05,0.1,0.2,0.45,1.35,3.55,5.75,6.85,7.4,7.7,7.95,8.1],
 [0.1,0.05,0.05,0.05,0.05,0.1,0.2,0.4,1.3,3.45,5.6,6.65,7.15,7.5,7.7,7.8],
 [0.1,0.05,0.05,0.05,0.05,0.1,0.2,0.4,1.2,3.1,4.8,5.7,6.1,6.4,6.6,6.7],
 [0.05,0.05,0.05,0.05,0.05,0.05,0.05,0.05,0.1,0.4,1.9,4.5,6.35,7.15,7.65,7.85],
 [0.05,0.05,0.05,0.0,0.0,0.0,0.0,0.05,0.1,0.35,1.8,4.2,5.55,6.05,6.4,6.5],
 [0.05,0.05,0.05,0.05,0.05,0.05,0.05,0.05,0.08,0.3,1.4,3.7,4.8,5.1,5.3,5.4],
 [0.05,0.05,0.05,0.05,0.05,0.05,0.05,0.05,0.05,0.1,0.2,0.5,1.9,4.4,5.5,5.8],
 [0.05,0.05,0.05,0.05,0.05,0.05,0.05,0.05,0.05,0.1,0.2,0.45,1.7,4.3,5.4,5.85],
 [0.05,0.05,0.05,0.05,0.05,0.05,0.05,0.05,0.05,0.05,0.05,0.05,0.1,0.75,3.1,4.3],
 [0.05,0.05,0.05,0.05,0.05,0.05,0.05,0.05,0.05,0.05,0.05,0.05,0.1,0.7,2.8,3.9]
];
const fadD21_colors = ['#4060ff','#a0c0ff','#9040e0','#ff6090','#7030c0','#a0522d','#30a050','#f0a020','#30a0a0','#ff80e0','#9040a0','#40b0a0','#ff2020','#8b1a1a'];

const mmpL7_values = [
 [0.05,0.0,-0.05,-0.1,-0.1,-0.05,0.15,1.1,3.7,5.3,6.3,6.85,7.15,7.35,7.5,7.65,7.85,8.0,8.15,8.3,8.35],
 [0.1,0.05,0.0,-0.05,-0.05,0.0,0.2,1.2,3.9,5.6,6.6,7.1,7.3,7.45,7.6,7.75,7.9,8.05,8.2,8.35,8.4],
 [0.05,0.0,-0.05,-0.12,-0.12,-0.08,0.1,1.0,3.5,5.0,5.9,6.35,6.7,6.95,7.1,7.2,7.3,7.4,7.5,7.6,7.65],
 [0.05,0.0,-0.05,-0.1,-0.1,-0.05,0.1,0.9,3.2,4.7,5.45,5.8,6.05,6.3,6.5,6.65,6.8,6.9,7.0,7.05,7.1],
 [0.05,0.0,0.0,0.0,0.0,0.0,0.05,0.2,0.65,1.85,4.3,6.5,7.5,7.95,8.35,8.65,8.9,9.1,9.3,9.55,9.65],
 [0.05,0.05,0.05,0.05,0.08,0.1,0.15,0.35,0.9,2.0,4.1,6.1,7.0,7.5,7.8,8.0,8.2,8.35,8.5,8.6,8.65],
 [0.05,0.0,0.0,0.0,0.0,0.0,0.05,0.18,0.6,1.75,4.1,6.3,7.3,7.8,8.1,8.3,8.45,8.55,8.65,8.75,8.8],
 [0.05,0.0,0.0,0.0,0.0,0.0,0.0,0.0,0.0,0.05,0.2,0.72,2.75,5.65,7.55,8.5,9.0,9.3,9.55,9.85,10.0],
 [0.05,0.0,0.0,0.0,0.0,0.0,0.0,0.0,0.0,0.04,0.15,0.65,2.6,5.4,7.2,8.1,8.6,8.9,9.1,9.35,9.45],
 [0.05,0.0,0.0,0.0,0.0,0.0,0.0,0.0,0.0,0.0,0.0,0.05,0.2,0.72,2.75,5.95,7.85,8.8,9.3,9.65,9.8],
 [0.05,0.0,0.0,0.0,0.0,0.0,0.0,0.0,0.0,0.0,0.0,0.05,0.2,0.65,2.55,5.7,7.6,8.5,9.0,9.35,9.45],
 [0.0,0.0,0.0,0.0,0.0,0.0,0.0,0.0,0.0,0.0,0.0,0.0,0.0,0.05,0.2,0.95,3.4,6.65,8.1,8.9,9.2],
 [0.0,0.0,0.0,0.0,0.0,0.0,0.0,0.0,0.0,0.0,0.0,0.0,0.0,0.04,0.15,0.85,3.1,6.3,7.8,8.55,8.8],
 [0.0,0.0,0.0,0.0,0.0,0.0,0.0,0.0,0.0,0.0,0.0,0.0,0.0,0.04,0.15,0.8,3.0,6.2,7.8,8.6,8.9]
];
const mmpL7_colors = ['#4040ff','#a0b8ff','#9040e0','#40e0f0','#202080','#40b0a0','#30a040','#e0a030','#ff90e0','#303060','#909090','#20d020','#ff2020','#202020'];

// ---------- visual styles ----------
const STYLES = {
  big:   {tick:{family:'DejaVu Sans',size:12}, xLen:4, xPad:0, yLen:5, yPad:4,
          yt:{family:"'Liberation Sans Narrow','Liberation Sans',sans-serif",size:12,weight:'bold'},
          xt:{family:'DejaVu Sans',size:13,weight:'bold'},
          title:'font:bold 15px "DejaVu Sans";letter-spacing:3.3px', gene:20, frame:2, lw:1.4, minorLen:3},
  large: {tick:{family:"'Liberation Sans',sans-serif",size:8}, xLen:2, xPad:1, yLen:2, yPad:1,
          yt:{family:"'Liberation Sans',sans-serif",size:8.5,weight:'bold'},
          xt:{family:"'Liberation Sans',sans-serif",size:8,weight:'bold'},
          title:'font:bold 11px "Liberation Sans";letter-spacing:0.6px', gene:21, frame:1, lw:1, minorLen:2},
  small: {tick:{family:'DejaVu Sans',size:6}, xLen:2, xPad:0, yLen:3, yPad:1,
          yt:{family:"'Liberation Sans Narrow','Liberation Sans',sans-serif",size:7.5,weight:'normal'},
          xt:{family:'DejaVu Sans',size:6.5,weight:'bold'},
          title:'font:bold 7.5px "DejaVu Sans";letter-spacing:1px', gene:21, frame:1, lw:1, minorLen:2}
};

const panels = [
 {gene:'<i>fbp</i>B', style:'big', box:[154,5,598,401], plot:[254,38,726,368], title:[447,22], geneAt:[298,83], yT:182, xT:392,
  cycles:C35, values:fbpB_values, colors:fbpB_colors, x:[1,35], xTicks:X34, y:[-0.8,8.14], yTicks:fbpB_yTicks, yMinor:0.1, xMinor:1},
 {gene:'<i>dnaA</i>', style:'small', box:[890,5,291,211], plot:[934,25,1170,196], title:[1033,16], geneAt:[953,58], yT:902, xT:208,
  cycles:C35, values:dnaA_values, colors:dnaA_colors, x:[1,35], xTicks:X34, y:[-0.93,11.61], yTicks:dnaA_yTicks, yMinor:0.5, xMinor:1},
 {gene:'<i>gro</i>EL1', style:'small', box:[892,242,289,209], plot:[928,261,1171,431], title:[1035,252], geneAt:[955,305], yT:904, xT:444,
  cycles:C33, values:groEL1_values, colors:groEL1_colors, x:[1,33], xTicks:X32, y:[-0.72,8.59], yTicks:groEL1_yTicks, yMinor:0.4, xMinor:1},
 {gene:'<i>esx</i>A', style:'large', box:[7,478,293,210], plot:[52,506,286,656], title:[150,494], geneAt:[69,526], yT:20, xT:675,
  cycles:C35, values:esxA_values, colors:esxA_colors, x:[1,35], xTicks:X34, y:[-0.89,10.43], yTicks:esxA_yTicks, yMinor:0, xMinor:0},
 {gene:'<i>hmp</i>', style:'small', box:[302,478,292,210], plot:[346,495,582,669], title:[446,488], geneAt:[363,523], yT:314, xT:681,
  cycles:C35, values:hmp_values, colors:hmp_colors, x:[1,35], xTicks:X34, y:[-0.82,7.63], yTicks:hmp_yTicks, yMinor:0.35, xMinor:1},
 {gene:'Rv3130c', style:'small', box:[597,478,291,210], plot:[641,495,876,669], title:[740,488], geneAt:[662,526], yT:609, xT:681,
  cycles:C35, values:Rv3130c_values, colors:Rv3130c_colors, x:[1,35], xTicks:X34, y:[-0.857,9.375], yTicks:Rv3130c_yTicks, yMinor:0.4, xMinor:1},
 {gene:'<i>lip</i>Y', style:'small', box:[892,478,290,210], plot:[937,495,1171,669], title:[1035,488], geneAt:[966,530], yT:904, xT:681,
  cycles:C35, values:lipY_values, colors:lipY_colors, x:[1,35], xTicks:X34, y:[-0.96,9.99], yTicks:lipY_yTicks, yMinor:0.45, xMinor:1},
 {gene:'<i>fstZ</i>', style:'small', box:[7,712,293,211], plot:[54,733,287,905], title:[151,724], geneAt:[76,762], yT:20, xT:916,
  cycles:C35, values:fstZ_values, colors:fstZ_colors, x:[1,35], xTicks:X34, y:[-0.74,9.13], yTicks:fstZ_yTicks, yMinor:0.4, xMinor:1},
 {gene:'Rv3134', style:'large', box:[302,712,292,211], plot:[350,743,585,891], title:[446,730], geneAt:[371,762], yT:316, xT:911,
  cycles:C35, values:Rv3134_values, colors:Rv3134_colors, x:[1,35], xTicks:X34, y:[-0.76,10.24], yTicks:Rv3134_yTicks, yMinor:0, xMinor:0},
 {gene:'<i>icl</i>1', style:'large', box:[597,712,291,211], plot:[642,743,879,891], title:[740,729], geneAt:[670,761], yT:611, xT:910,
  cycles:C35, values:icl1_values, colors:icl1_colors, x:[1,35], xTicks:X34, y:[-0.75,8.96], yTicks:icl1_yTicks, yMinor:0, xMinor:0},
 {gene:'<i>dos</i>R', style:'small', box:[892,712,290,211], plot:[937,733,1172,905], title:[1035,721], geneAt:[968,761], yT:904, xT:915,
  cycles:C35, values:dosR_values, colors:dosR_colors, x:[1,35], xTicks:X34, y:[-1.3,10.48], yTicks:dosR_yTicks, yMinor:0.5, xMinor:1},
 {gene:'<i>hspX</i>', style:'small', box:[7,950,293,211], plot:[51,967,287,1141], title:[150,961], geneAt:[74,1000], yT:18, xT:1152,
  cycles:C31, values:hspX_values, colors:hspX_colors, x:[1,31], xTicks:X30, y:[-0.66,9.76], yTicks:hspX_yTicks, yMinor:0.45, xMinor:1},
 {gene:'P1', style:'small', box:[302,950,292,211], plot:[347,967,582,1141], title:[445,960], geneAt:[368,997], yT:314, xT:1152,
  cycles:C35, values:P1_values, colors:P1_colors, x:[1,35], xTicks:X34, y:[-0.89,7.75], yTicks:P1_yTicks, yMinor:0.35, xMinor:1},
 {gene:'<i>rpf</i>B', style:'small', box:[597,950,291,211], plot:[641,967,876,1141], title:[740,960], geneAt:[662,1002], yT:608, xT:1152,
  cycles:C35, values:rpfB_values, colors:rpfB_colors, x:[1,35], xTicks:X34, y:[-1.07,10.58], yTicks:rpfB_yTicks, yMinor:0.5, xMinor:1},
 {gene:'Rv2626', style:'small', box:[892,950,290,211], plot:[936,967,1171,1141], title:[1035,958], geneAt:[967,997], yT:904, xT:1151,
  cycles:C29, values:Rv2626_values, colors:Rv2626_colors, x:[1,29], xTicks:X28, y:[-1.02,9.47], yTicks:Rv2626_yTicks, yMinor:0.45, xMinor:1},
 {gene:'Rv2660', style:'large', box:[7,1182,293,206], plot:[52,1210,286,1360], title:[148,1197], geneAt:[62,1232], yT:19, xT:1379,
  cycles:C35, values:Rv2660_values, colors:Rv2660_colors, x:[1,35], xTicks:X34, y:[-0.79,10.37], yTicks:Rv2660_yTicks, yMinor:0, xMinor:0},
 {gene:'16S', style:'large', box:[302,1182,292,206], plot:[347,1210,582,1360], title:[444,1196], geneAt:[358,1235], yT:314, xT:1378,
  cycles:C35, values:r16S_values, colors:r16S_colors, x:[1,35], xTicks:X34, y:[-1.02,10.7], yTicks:r16S_yTicks, yMinor:0, xMinor:0},
 {gene:'<i>fad</i>D21', style:'small', box:[597,1182,291,206], plot:[641,1198,875,1370], title:[740,1189], geneAt:[668,1232], yT:609, xT:1382,
  cycles:C30, values:fadD21_values, colors:fadD21_colors, x:[1,30], xTicks:X30, y:[-0.72,8.65], yTicks:fadD21_yTicks, yMinor:0.4, xMinor:1},
 {gene:'<i>mmp</i>L7', style:'small', box:[892,1182,290,206], plot:[933,1196,1171,1370], title:[1035,1189], geneAt:[951,1222], yT:904, xT:1382,
  cycles:C40, values:mmpL7_values, colors:mmpL7_colors, x:[1,40], xTicks:X40, y:[-0.96,10.72], yTicks:mmpL7_yTicks, yMinor:0.5, xMinor:1}
];

// ---------- plugin: white plot background, minor ticks, frame ----------
const framePlugin = {
  id: 'frame',
  beforeDraw(chart) {
    const a = chart.chartArea, c = chart.ctx;
    c.save(); c.fillStyle = '#fff';
    c.fillRect(a.left, a.top, a.right - a.left, a.bottom - a.top);
    c.restore();
  },
  afterDraw(chart, args, o) {
    const a = chart.chartArea, c = chart.ctx, ys = chart.scales.y, xs = chart.scales.x;
    c.save();
    c.strokeStyle = '#000'; c.lineWidth = 1;
    if (o.yMinor) {
      const base = o.yTicks[0];
      for (let n = -50; n < 400; n++) {
        const v = base + n * o.yMinor;
        if (v < ys.min || v > ys.max) continue;
        const py = Math.round(ys.getPixelForValue(v)) + 0.5;
        c.beginPath(); c.moveTo(a.left - o.len, py); c.lineTo(a.left, py); c.stroke();
      }
    }
    if (o.xMinor) {
      for (let v = Math.ceil(xs.min); v <= xs.max; v += o.xMinor) {
        if (o.xTicks.includes(v)) continue;
        const px = Math.round(xs.getPixelForValue(v)) + 0.5;
        c.beginPath(); c.moveTo(px, a.bottom); c.lineTo(px, a.bottom + o.len); c.stroke();
      }
    }
    c.lineWidth = o.lw;
    const off = o.lw % 2 ? 0.5 : 0;
    c.strokeRect(Math.round(a.left) + off, Math.round(a.top) + off,
                 Math.round(a.right - a.left), Math.round(a.bottom - a.top));
    c.restore();
  }
};

function build(p) {
  const st = STYLES[p.style];
  const [bx, by, bw, bh] = p.box;
  const [pl, pt, pr, pb] = p.plot;
  const div = document.createElement('div');
  div.className = 'panel';
  div.style.cssText = `left:${bx}px;top:${by}px;width:${bw}px;height:${bh}px;`;
  const cv = document.createElement('canvas');
  cv.width = bw; cv.height = bh;
  cv.style.width = bw + 'px'; cv.style.height = bh + 'px';
  div.appendChild(cv);
  document.body.appendChild(div);

  const t = document.createElement('div');
  t.className = 'ttl';
  t.textContent = 'Amplification Curves';
  t.style.cssText = st.title + `;left:${p.title[0] - bx}px;top:${p.title[1] - by}px;`;
  div.appendChild(t);

  const g = document.createElement('div');
  g.className = 'gene';
  g.innerHTML = p.gene;
  g.style.cssText = `left:${p.geneAt[0] - bx}px;top:${p.geneAt[1] - by}px;font-size:${st.gene}px;`;
  div.appendChild(g);

  const datasets = p.values.map((vals, k) => ({
    data: vals.map((v, j) => ({x: p.cycles[j], y: v})),
    borderColor: p.colors[k],
    borderWidth: st.lw,
    pointRadius: 0,
    fill: false,
    cubicInterpolationMode: 'monotone'
  }));

  const ytLH = st.yt.size * 1.2, xtLH = st.xt.size * 1.2;
  new Chart(cv, {
    type: 'line',
    data: {datasets},
    options: {
      responsive: false, animation: false, devicePixelRatio: 1,
      events: [],
      layout: {padding: {left: 0, top: pt - by, right: bx + bw - pr, bottom: 0}},
      plugins: {
        legend: {display: false}, tooltip: {enabled: false}, title: {display: false},
        frame: {lw: st.frame, len: st.minorLen, yMinor: p.yMinor, xMinor: p.xMinor, yTicks: p.yTicks, xTicks: p.xTicks}
      },
      scales: {
        x: {
          type: 'linear', min: p.x[0], max: p.x[1], bounds: 'data',
          afterBuildTicks: s => { s.ticks = p.xTicks.map(v => ({value: v})); },
          afterFit: s => { s.height = by + bh - pb; },
          ticks: {autoSkip: false, maxRotation: 0, minRotation: 0, font: st.tick, color: '#000', padding: st.xPad,
                  callback: (v, i) => String(p.xTicks[i])},
          grid: {drawOnChartArea: false, drawTicks: true, tickLength: st.xLen, color: '#000'},
          border: {display: true, color: '#000'},
          title: {display: true, text: 'Cycles', font: st.xt, color: '#000',
                  padding: {top: 0, bottom: Math.max(0, (by + bh - p.xT) - xtLH / 2)}}
        },
        y: {
          type: 'linear', min: p.y[0], max: p.y[1], bounds: 'data',
          afterBuildTicks: s => { s.ticks = p.yTicks.map(v => ({value: v})); },
          afterFit: s => { s.width = pl - bx; },
          ticks: {autoSkip: false, font: st.tick, color: '#000', padding: st.yPad,
                  callback: (v, i) => String(p.yTicks[i])},
          grid: {drawOnChartArea: false, drawTicks: true, tickLength: st.yLen, color: '#000'},
          border: {display: true, color: '#000'},
          title: {display: true, text: 'Fluorescence (530)', font: st.yt, color: '#000',
                  padding: {top: Math.max(0, (p.yT - bx) - ytLH / 2), bottom: 0}}
        }
      }
    },
    plugins: [framePlugin]
  });
}

panels.forEach(build);
</script>
</body></html>
